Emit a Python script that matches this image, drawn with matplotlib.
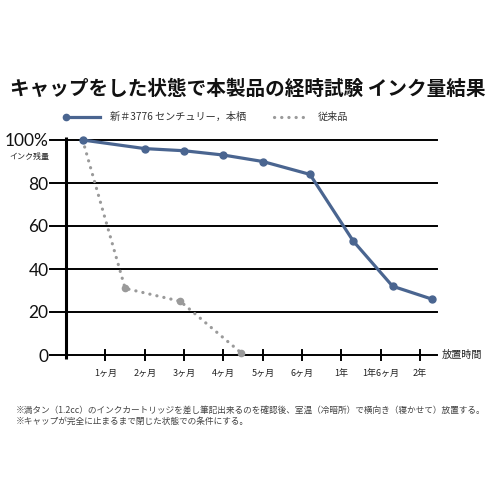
import matplotlib.pyplot as plt
from matplotlib.lines import Line2D

plt.rcParams['font.family'] = ['Noto Sans CJK JP', 'DejaVu Sans']

# データ
time_labels = ['1ヶ月', '2ヶ月', '3ヶ月', '4ヶ月', '5ヶ月', '6ヶ月', '1年', '1年6ヶ月', '2年']
new_x = [0.42, 2, 3, 4, 5, 6.2, 7.3, 8.3, 9.3]
new_y = [100, 96, 95, 93, 90, 84, 53, 32, 26]
old_x = [0.42, 1.5, 2.9, 4.45]
old_y = [100, 31, 25, 1]
y_ticks = [0, 20, 40, 60, 80, 100]
y_labels = ['0', '20', '40', '60', '80', '100%']

blue = '#4a6590'
gray = '#9a9a9a'

W = 496
fig = plt.figure(figsize=(4.96, 4.96), dpi=100)
ax = fig.add_axes([50 / W, 1 - 355 / W, 387 / W, 215 / W])
ax.set_xlim(-0.41, 9.43)
ax.set_ylim(0, 100)

# 横線
for v in y_ticks:
    ax.axhline(v, color='black', lw=1.4, zorder=1, clip_on=False)
# 縦軸
ax.plot([0, 0], [-2, 101.5], color='black', lw=2.2, zorder=1, clip_on=False,
        solid_capstyle='butt')
# x軸の目盛り
for i in range(1, len(time_labels) + 1):
    ax.plot([i, i], [-2.4, 2.4], color='black', lw=1.4, zorder=1, clip_on=False)
    ax.text(i, -8.5, time_labels[i - 1], ha='center', va='center', fontsize=6.5,
            color='#222222')

# 従来品
ax.plot(old_x, old_y, color=gray, lw=2.3, linestyle=(0, (0.05, 2.2)),
        dash_capstyle='round', zorder=2, clip_on=False)
ax.plot(old_x[1:], old_y[1:], 'o', color=gray, ms=4.5, zorder=2, clip_on=False)

# 新製品
ax.plot(new_x, new_y, color=blue, lw=2.3, marker='o', ms=5, mfc=blue, mec=blue,
        zorder=3, clip_on=False)

for s in ax.spines.values():
    s.set_visible(False)
ax.set_xticks([])
ax.set_yticks(y_ticks)
ax.set_yticklabels(y_labels, fontsize=12.5, color='#111111', family=['Lato', 'DejaVu Sans'])
ax.tick_params(axis='y', length=0, pad=1)

ax.text(9.55, 0, '放置時間', ha='left', va='center', fontsize=7.3, color='#222222')
fig.text(49 / W, 1 - 156 / W, 'インク残量', ha='right', va='center', fontsize=5.8,
         color='#222222')

# タイトル
fig.text(248 / W, 1 - 89 / W, 'キャップをした状態で本製品の経時試験 インク量結果',
         ha='center', va='center', fontsize=14.1, fontweight='bold', color='#111111')

# 凡例
ly = 1 - 117 / W
fig.add_artist(Line2D([66 / W, 100 / W], [ly, ly], color=blue, lw=2.3))
fig.add_artist(Line2D([66 / W], [ly], marker='o', ms=4.5, color=blue))
fig.text(110 / W, ly, '新＃3776 センチュリー，本栖', ha='left', va='center',
         fontsize=7.3, color='#333333')
fig.add_artist(Line2D([274 / W, 304 / W], [ly, ly], color=gray, lw=2.3,
                      linestyle=(0, (0.05, 2.2)), dash_capstyle='round'))
fig.text(318 / W, ly, '従来品', ha='left', va='center', fontsize=7.3, color='#333333')

# 注記
fig.text(16 / W, 1 - 410 / W,
         '※満タン（1.2cc）のインクカートリッジを差し筆記出来るのを確認後、室温（冷暗所）で横向き（寝かせて）放置する。',
         ha='left', va='center', fontsize=6.25, color='#444444')
fig.text(16 / W, 1 - 421 / W, '※キャップが完全に止まるまで閉じた状態での条件にする。',
         ha='left', va='center', fontsize=6.25, color='#444444')

fig.savefig('out.png', dpi=100, facecolor='white')
